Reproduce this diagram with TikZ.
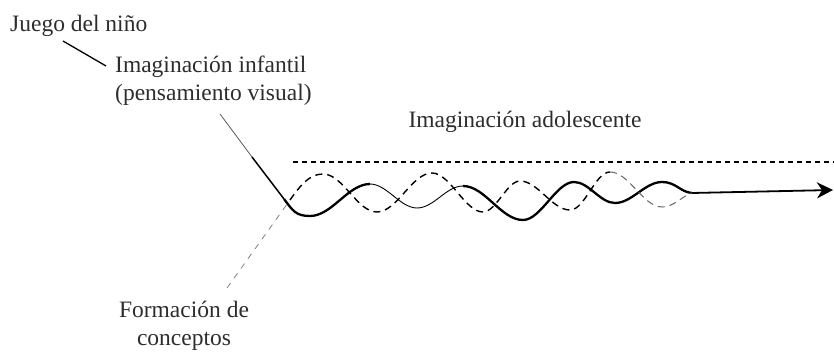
\documentclass[tikz,border=0pt]{standalone}
\usepackage{fontspec}
\setmainfont{Liberation Serif}
\usepackage{xcolor}
\usetikzlibrary{arrows.meta}
\definecolor{inkgray}{RGB}{45,45,45}

\begin{document}
\begin{tikzpicture}[
    x=1pt, y=-1pt,
    label/.style={inner sep=0pt, text=inkgray, font=\fontsize{23.5}{28}\selectfont},
    thinline/.style={line width=0.9pt},
    thickline/.style={line width=2.3pt},
    wave/.style={dash pattern=on 7pt off 5pt, line width=1.4pt},
    faintwave/.style={dash pattern=on 6pt off 6pt, line width=0.8pt, gray},
    limit/.style={dash pattern=on 5pt off 4pt, line width=2pt}
]
    \useasboundingbox (0,0) rectangle (834,352);

    % labels
    \node[label, anchor=base west] (juego) at (10,32) {Juego del niño};
    \node[label, anchor=north west, align=left] (infantil) at (115,56) {Imaginación infantil\\(pensamiento visual)};
    \node[label, anchor=base] (adolesc) at (525,128) {Imaginación adolescente};
    \node[label, anchor=north, align=center] (formacion) at (184,301) {Formación de\\conceptos};

    \coordinate (jtail) at (63,41);
    \coordinate (jhead) at (106,66);
    \draw[line width=1.3pt] (jtail) -- (jhead);

    % upper limit
    \coordinate (lim0) at (293,162);
    \coordinate (lim1) at (834,162);
    \draw[limit] (lim0) -- (lim1);

    % solid path (imaginacion)
    \coordinate (s0) at (220,114);
    \coordinate (s0a) at (252,157);
    \coordinate (s1) at (284,199);
    \coordinate (s2) at (310,216);
    \coordinate (s3) at (370,184);
    \coordinate (s4) at (417,208);
    \coordinate (s5) at (463,186);
    \coordinate (s6) at (523,220);
    \coordinate (s7) at (574,182);
    \coordinate (s8) at (615,203);
    \coordinate (s9) at (662,182);
    \coordinate (s10) at (692,193);
    \coordinate (s11) at (833,190);

    \draw[line width=0.8pt, gray!70!black] (s0) -- (s0a);
    \draw[line width=1.5pt] (s0a) -- (s1);
    \draw[thickline] (s1) .. controls +(9,12) and +(-14,0) .. (s2)
        .. controls +(22,0) and +(-22,0) .. (s3);
    \draw[thinline] (s3) .. controls +(17,0) and +(-17,0) .. (s4)
        .. controls +(17,0) and +(-17,0) .. (s5);
    \draw[thickline] (s5) .. controls +(22,0) and +(-22,0) .. (s6)
        .. controls +(18,0) and +(-18,0) .. (s7)
        .. controls +(15,0) and +(-15,0) .. (s8)
        .. controls +(17,0) and +(-17,0) .. (s9)
        .. controls +(14,0) and +(-12,-1) .. (s10);
    \draw[line width=1.8pt, -{Stealth[length=16pt, width=16pt, inset=5pt]}] (s10) -- (s11);

    % dashed path (conceptos)
    \coordinate (d0) at (227,288);
    \coordinate (d1) at (290,200);
    \coordinate (d2) at (323,174);
    \coordinate (d3) at (377,212);
    \coordinate (d4) at (432,173);
    \coordinate (d5) at (483,212);
    \coordinate (d6) at (520,181);
    \coordinate (d7) at (570,210);
    \coordinate (d8) at (610,172);
    \coordinate (d9) at (662,207);
    \coordinate (d10) at (692,193);

    \draw[faintwave] (d0) -- (d1);
    \draw[wave] (d1) .. controls +(10,-14) and +(-14,0) .. (d2)
        .. controls +(20,0) and +(-20,0) .. (d3)
        .. controls +(20,0) and +(-20,0) .. (d4)
        .. controls +(18,0) and +(-18,0) .. (d5)
        .. controls +(13,0) and +(-13,0) .. (d6)
        .. controls +(18,0) and +(-18,0) .. (d7)
        .. controls +(15,0) and +(-15,0) .. (d8);
    \draw[wave, line width=1pt, gray!80!black] (d8) .. controls +(19,0) and +(-19,0) .. (d9)
        .. controls +(12,0) and +(-10,3) .. (d10);
\end{tikzpicture}
\end{document}
